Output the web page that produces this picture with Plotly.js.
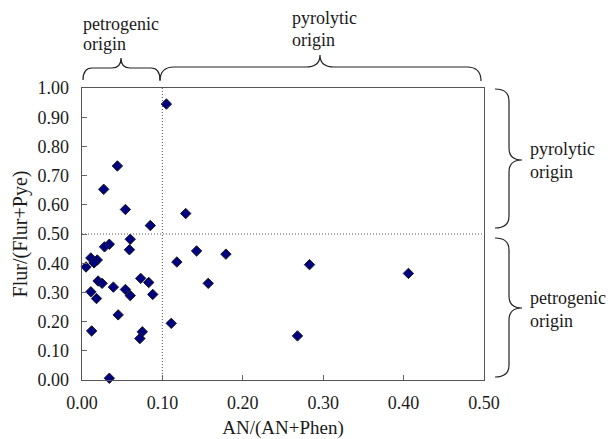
<!DOCTYPE html>
<html>
<head>
<meta charset="utf-8">
<script src="https://cdn.plot.ly/plotly-3.0.1.min.js"></script>
<style>html,body{margin:0;padding:0;background:#fff;}#chart{width:608px;height:439px;}</style>
</head>
<body>
<div id="chart"></div>
<script>
// AN/(AN+Phen)
var anRatio = [0.105, 0.044, 0.027, 0.054, 0.085, 0.129, 0.060, 0.034, 0.028, 0.059,
               0.011, 0.019, 0.015, 0.005, 0.118, 0.020, 0.025, 0.073, 0.083, 0.039,
               0.054, 0.060, 0.088, 0.011, 0.018, 0.045, 0.111, 0.012, 0.075, 0.072,
               0.034, 0.1425, 0.179, 0.157, 0.268, 0.283, 0.406];
// Flur/(Flur+Pye)
var flRatio = [0.945, 0.733, 0.653, 0.584, 0.529, 0.570, 0.482, 0.465, 0.456, 0.446,
               0.418, 0.411, 0.401, 0.387, 0.404, 0.339, 0.331, 0.348, 0.334, 0.318,
               0.310, 0.289, 0.293, 0.302, 0.279, 0.223, 0.194, 0.168, 0.165, 0.142,
               0.006, 0.442, 0.431, 0.331, 0.151, 0.395, 0.365];
var xTickVals = [0, 0.1, 0.2, 0.3, 0.4, 0.5];
var yTickVals = [0, 0.1, 0.2, 0.3, 0.4, 0.5, 0.6, 0.7, 0.8, 0.9, 1.0];
var xThreshold = 0.1;
var yThreshold = 0.5;

var W = 608, H = 439, L = 82, R = 124, T = 88, B = 59;
var pw = W - L - R, ph = H - T - B;
function px(x){ return ((x - L) / pw).toFixed(4); }
function py(y){ return ((H - B - y) / ph).toFixed(4); }
function hBrace(xa, xb, yEnd, yLine, xc, yCusp, d){
  return 'M' + px(xa) + ',' + py(yEnd) +
    ' Q' + px(xa) + ',' + py(yLine) + ' ' + px(xa + d) + ',' + py(yLine) +
    ' L' + px(xc - d) + ',' + py(yLine) +
    ' Q' + px(xc) + ',' + py(yLine) + ' ' + px(xc) + ',' + py(yCusp) +
    ' Q' + px(xc) + ',' + py(yLine) + ' ' + px(xc + d) + ',' + py(yLine) +
    ' L' + px(xb - d) + ',' + py(yLine) +
    ' Q' + px(xb) + ',' + py(yLine) + ' ' + px(xb) + ',' + py(yEnd);
}
function vBrace(ya, yb, xEnd, xLine, yc, xCusp, d){
  return 'M' + px(xEnd) + ',' + py(ya) +
    ' Q' + px(xLine) + ',' + py(ya) + ' ' + px(xLine) + ',' + py(ya + d) +
    ' L' + px(xLine) + ',' + py(yc - d) +
    ' Q' + px(xLine) + ',' + py(yc) + ' ' + px(xCusp) + ',' + py(yc) +
    ' Q' + px(xLine) + ',' + py(yc) + ' ' + px(xLine) + ',' + py(yc + d) +
    ' L' + px(xLine) + ',' + py(yb - d) +
    ' Q' + px(xLine) + ',' + py(yb) + ' ' + px(xEnd) + ',' + py(yb);
}
var FAM = '"Times New Roman", "Liberation Serif", "DejaVu Serif", serif';
var braceLine = {color: '#222', width: 1.2};
var shapes = [
  {type: 'line', xref: 'x', yref: 'y', x0: xThreshold, x1: xThreshold, y0: 0, y1: 1,
   line: {color: '#555', width: 1, dash: '1px,2px'}},
  {type: 'line', xref: 'x', yref: 'y', x0: 0, x1: 0.5, y0: yThreshold, y1: yThreshold,
   line: {color: '#555', width: 1, dash: '1px,2px'}},
  {type: 'path', xref: 'paper', yref: 'paper', path: hBrace(83, 160, 80, 68, 121, 58, 9), line: braceLine},
  {type: 'path', xref: 'paper', yref: 'paper', path: hBrace(160, 481, 81, 67, 320, 55, 14), line: braceLine},
  {type: 'path', xref: 'paper', yref: 'paper', path: vBrace(89, 228, 495, 509, 160, 522, 12), line: braceLine},
  {type: 'path', xref: 'paper', yref: 'paper', path: vBrace(238, 377, 495, 509, 308, 522, 12), line: braceLine}
];
var annFont = {family: FAM, size: 18, color: '#1a1a1a'};
function ann(text, x, y, xanchor){
  return {text: text, xref: 'paper', yref: 'paper', x: px(x), y: py(y), xanchor: xanchor || 'left',
          yanchor: 'middle', showarrow: false, font: annFont};
}
var annotations = [
  ann('petrogenic', 81, 24), ann('origin', 81, 44),
  ann('pyrolytic', 290, 18), ann('origin', 290, 40),
  ann('pyrolytic', 528, 149), ann('origin', 528, 172),
  ann('petrogenic', 528, 298), ann('origin', 528, 321)
];

var trace = {
  x: anRatio, y: flRatio, type: 'scatter', mode: 'markers', cliponaxis: false,
  marker: {symbol: 'diamond', size: 8, color: '#000080', line: {color: '#1a1a1a', width: 1}}
};
var tickFont = {family: FAM, size: 18, color: '#1a1a1a'};
var layout = {
  width: W, height: H,
  margin: {l: L, r: R, t: T, b: B, pad: 0},
  paper_bgcolor: '#fff', plot_bgcolor: '#fff',
  showlegend: false,
  font: tickFont,
  xaxis: {
    range: [0, 0.5], tickvals: xTickVals, tickformat: '.2f',
    ticks: 'inside', ticklen: 5, tickcolor: '#666', tickwidth: 1,
    showgrid: false, zeroline: false, showline: true, linecolor: '#555', linewidth: 1.3, mirror: true,
    tickfont: tickFont, ticklabelstandoff: 6,
    title: {text: 'AN/(AN+Phen)', font: {family: FAM, size: 19, color: '#1a1a1a'}, standoff: 8}
  },
  yaxis: {
    range: [0, 1], tickvals: yTickVals, tickformat: '.2f',
    ticks: 'inside', ticklen: 5, tickcolor: '#666', tickwidth: 1,
    showgrid: false, zeroline: false, showline: true, linecolor: '#555', linewidth: 1.3, mirror: true,
    tickfont: tickFont, ticklabelstandoff: 8,
    title: {text: 'Flur/(Flur+Pye)', font: {family: FAM, size: 20, color: '#1a1a1a'}, standoff: 4}
  },
  shapes: shapes,
  annotations: annotations
};
Plotly.newPlot('chart', [trace], layout, {staticPlot: true, displayModeBar: false});
</script>
</body>
</html>
